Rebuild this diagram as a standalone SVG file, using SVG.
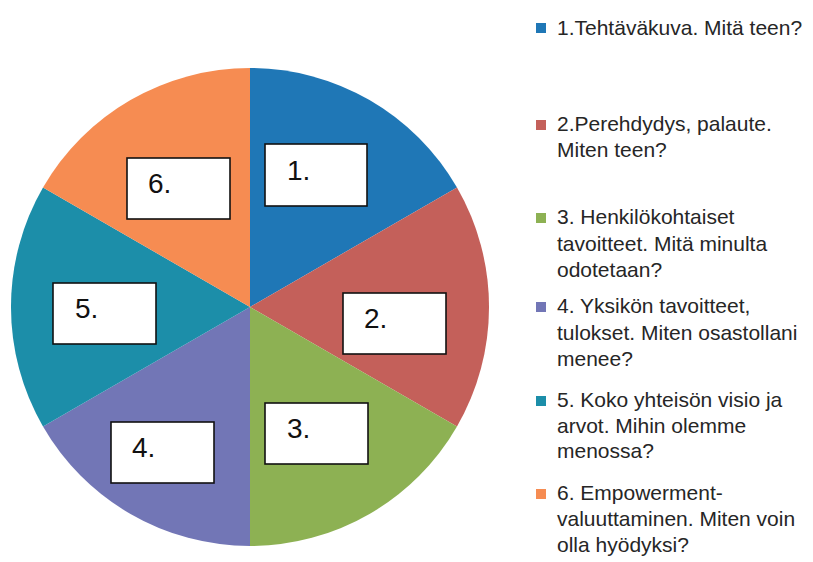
<svg xmlns="http://www.w3.org/2000/svg" width="813" height="562" viewBox="0 0 813 562">
<style>
.box{fill:#ffffff;stroke:#111111;stroke-width:1.6}
.num{font-family:"Liberation Sans",Arial,sans-serif;font-size:28px;fill:#111111}
.leg{font-family:"Liberation Sans",Arial,sans-serif;font-size:21px;fill:#262626}
.c1{fill:#1f77b6}.c2{fill:#c4605a}.c3{fill:#8db153}.c4{fill:#7276b6}.c5{fill:#1c8ea9}.c6{fill:#f68c52}
</style>
<rect width="813" height="562" fill="#ffffff"/>
<g id="pie">
<path class="c1" d="M250,307 L250,68 A239,239 0 0 1 457,187.5 Z"/>
<path class="c2" d="M250,307 L457,187.5 A239,239 0 0 1 457,426.5 Z"/>
<path class="c3" d="M250,307 L457,426.5 A239,239 0 0 1 250,546 Z"/>
<path class="c4" d="M250,307 L250,546 A239,239 0 0 1 43,426.5 Z"/>
<path class="c5" d="M250,307 L43,426.5 A239,239 0 0 1 43,187.5 Z"/>
<path class="c6" d="M250,307 L43,187.5 A239,239 0 0 1 250,68 Z"/>
</g>
<g id="box1"><rect class="box" x="265" y="144" width="102" height="62"/><text class="num" x="287" y="180">1.</text></g>
<g id="box2"><rect class="box" x="343" y="293" width="103" height="61"/><text class="num" x="364" y="328">2.</text></g>
<g id="box3"><rect class="box" x="265" y="403" width="103" height="61"/><text class="num" x="287" y="438">3.</text></g>
<g id="box4"><rect class="box" x="111" y="422" width="103" height="61"/><text class="num" x="132" y="457">4.</text></g>
<g id="box5"><rect class="box" x="53" y="283" width="103" height="61"/><text class="num" x="75" y="318">5.</text></g>
<g id="box6"><rect class="box" x="127" y="158" width="103" height="61"/><text class="num" x="148" y="193">6.</text></g>
<g id="legend">
<rect class="c1" x="536" y="23" width="10" height="10"/>
<text class="leg" x="557" y="35">1.Tehtäväkuva. Mitä teen?</text>
<rect class="c2" x="536" y="120" width="10" height="10"/>
<text class="leg" x="557" y="131">2.Perehdydys, palaute.</text>
<text class="leg" x="557" y="157">Miten teen?</text>
<rect class="c3" x="536" y="213" width="10" height="10"/>
<text class="leg" x="557" y="224">3. Henkilökohtaiset</text>
<text class="leg" x="557" y="251">tavoitteet. Mitä minulta</text>
<text class="leg" x="557" y="277">odotetaan?</text>
<rect class="c4" x="536" y="302" width="10" height="10"/>
<text class="leg" x="557" y="313">4. Yksikön tavoitteet,</text>
<text class="leg" x="557" y="340">tulokset. Miten osastollani</text>
<text class="leg" x="557" y="366">menee?</text>
<rect class="c5" x="536" y="396" width="10" height="10"/>
<text class="leg" x="557" y="407">5. Koko yhteisön visio ja</text>
<text class="leg" x="557" y="433">arvot. Mihin olemme</text>
<text class="leg" x="557" y="458">menossa?</text>
<rect class="c6" x="536" y="489" width="10" height="10"/>
<text class="leg" x="557" y="500">6. Empowerment-</text>
<text class="leg" x="557" y="526">valuuttaminen. Miten voin</text>
<text class="leg" x="557" y="552">olla hyödyksi?</text>
</g>
</svg>
